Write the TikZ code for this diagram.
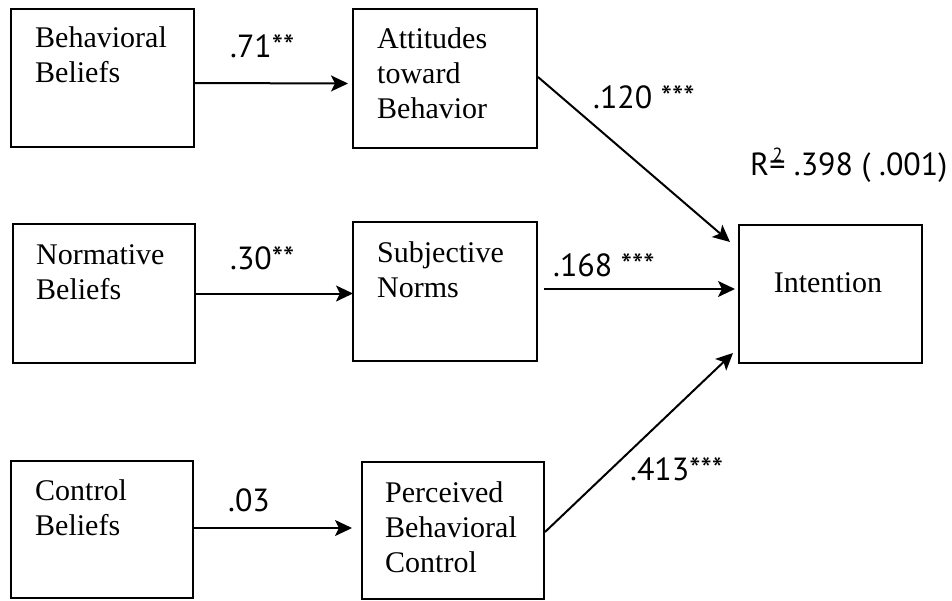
\documentclass[tikz,border=0pt]{standalone}
\usepackage{fontspec}
\setmainfont{Liberation Serif}
\newfontfamily\labfont{PT Sans}
\usetikzlibrary{arrows.meta}
\begin{document}
\begin{tikzpicture}[x=1pt,y=-1pt,
  box/.style={draw, line width=2pt, inner sep=0pt, outer sep=0pt, anchor=north west},
  txt/.style={anchor=base west, inner sep=0pt, align=left, font=\fontsize{30}{35}\selectfont},
  lab/.style={anchor=base west, inner sep=0pt, font=\labfont\fontsize{32}{35}\selectfont},
  arr/.style={line width=2pt, -{Stealth[length=17pt,width=16pt,inset=4pt]}}]
\useasboundingbox (0,0) rectangle (952,600);
% boxes
\node[box, minimum width=183pt, minimum height=138pt] (bb)  at (11,9) {};
\node[box, minimum width=184pt, minimum height=139pt] (atb) at (353,9) {};
\node[box, minimum width=182pt, minimum height=139pt] (nb)  at (13,224) {};
\node[box, minimum width=184pt, minimum height=139pt] (sn)  at (353,222) {};
\node[box, minimum width=182pt, minimum height=137pt] (cb)  at (11,461) {};
\node[box, minimum width=182pt, minimum height=137pt] (pbc) at (362,462) {};
\node[box, minimum width=183pt, minimum height=138pt] (int) at (739,225) {};
% box texts (anchored at the baseline of the last line)
\node[txt] (bbt)  at (35,82)   {Behavioral\\Beliefs};
\node[txt] (atbt) at (377,118) {Attitudes\\toward\\Behavior};
\node[txt] (nbt)  at (36,299)  {Normative\\Beliefs};
\node[txt] (snt)  at (377,297) {Subjective\\Norms};
\node[txt] (cbt)  at (35,535)  {Control\\Beliefs};
\node[txt] (pbct) at (385,572) {Perceived\\Behavioral\\Control};
\node[txt, anchor=base] (intt) at (828,292) {Intention};
% connectors
\draw[arr] ([yshift=-5pt]bb.east) -- ([xshift=-5pt,yshift=-5pt]atb.west);
\draw[arr] (nb.east) -- (nb.east -| sn.west);
\draw[arr] ([yshift=1.5pt]cb.east) coordinate (c1) -- ([xshift=-10pt]c1 -| pbc.west);
\draw[arr] ([xshift=1pt,yshift=1.5pt]atb.east) -- ([xshift=-9pt,yshift=-17pt]int.north west);
\draw[arr] ([xshift=7pt,yshift=2.5pt]sn.east) coordinate (s1) -- ([xshift=-4pt]s1 -| int.west);
\draw[arr] ([xshift=1pt,yshift=-1.5pt]pbc.east) -- ([xshift=-6pt,yshift=10pt]int.south west);
% labels
\node[lab] (l1) at (230,57)  {.71**};
\node[lab] (l2) at (230,269) {.30**};
\node[lab] (l3) at (228,511) {.03};
\node[lab] (l4) at (593,108) {.120 ***};
\node[lab] (l5) at (553,276) {.168 ***};
\node[lab] (l6) at (630,480) {.413***};
\node[lab] (r2) at (750,175) {R\rlap{\hspace{0.1em}\raisebox{14pt}{\fontsize{19}{19}\selectfont 2}}= .398 ( .001)};
\end{tikzpicture}
\end{document}
